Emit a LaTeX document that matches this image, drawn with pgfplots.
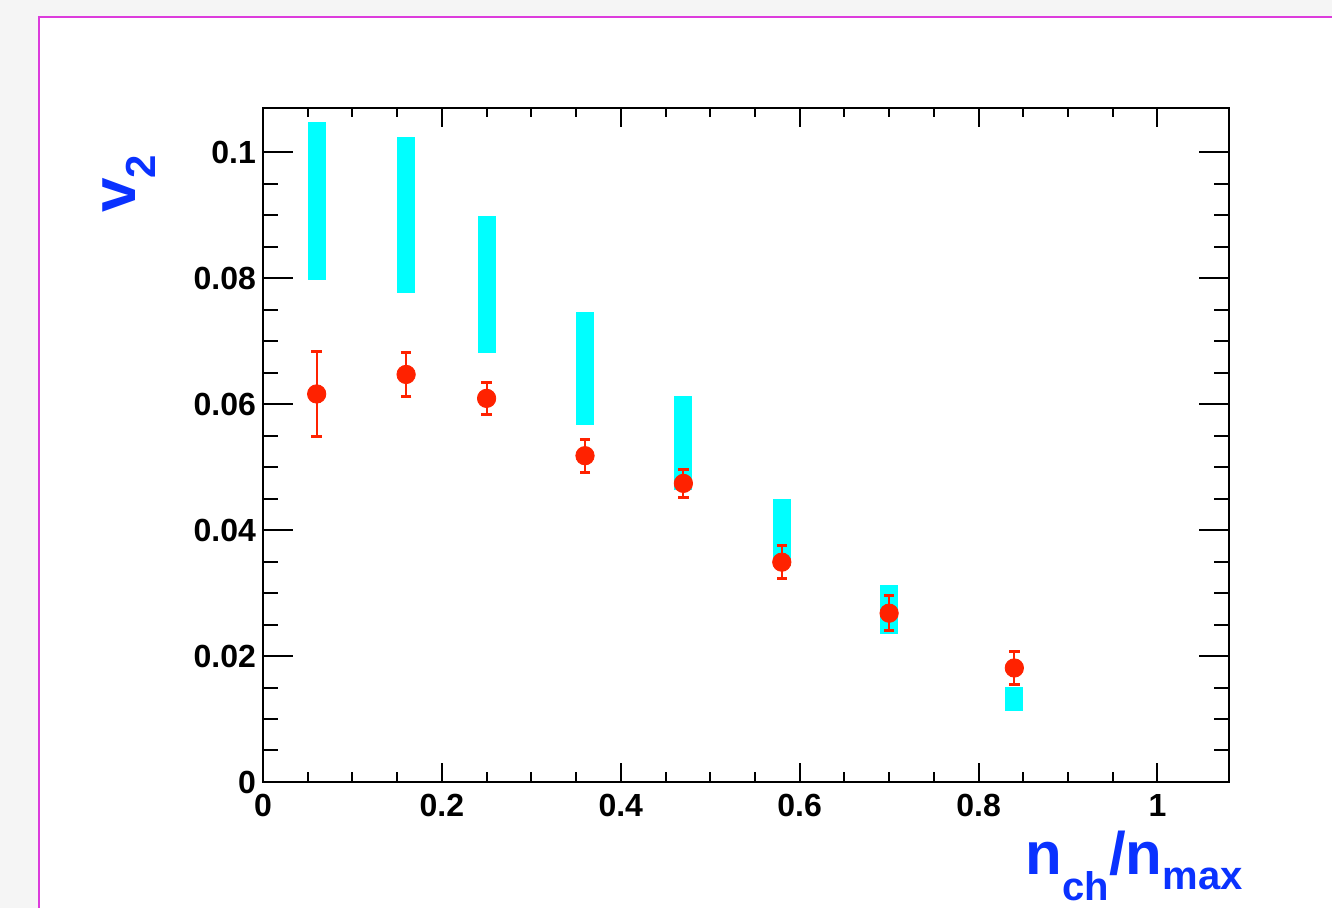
\documentclass[border=0pt]{standalone}
\usepackage{fontspec}
\setmainfont{Liberation Sans}
\usepackage{pgfplots}
\pgfplotsset{compat=1.18}
\definecolor{rootred}{RGB}{255,34,0}
\definecolor{rootcyan}{RGB}{0,255,255}
\definecolor{rootblue}{RGB}{10,50,255}
\definecolor{framecol}{RGB}{220,60,220}
\pgfplotsset{common/.style={
  at={(131.5pt,63pt)}, anchor=south west,
  scale only axis, width=483pt, height=337pt,
  xmin=0, xmax=1.08, ymin=0, ymax=0.107,
  tick align=inside,
  axis line style={line width=1.4pt, black},
  every tick/.style={black, line width=1pt},
  scaled ticks=false,
  ticklabel style={font=\fontsize{16}{16}\bfseries\selectfont},
}}
\begin{document}
\begin{tikzpicture}[x=1pt,y=1pt]
\useasboundingbox (0,0) rectangle (666,454);
\fill[gray!8] (0,0) rectangle (666,454);
\fill[white] (19.5,-10) rectangle (680,445.5);
\draw[framecol, line width=1pt] (19.5,-10) -- (19.5,445.5) -- (680,445.5);

\begin{axis}[common,
  xtick=\empty,
  ytick={0,0.02,0.04,0.06,0.08,0.1},
  yticklabels={0,0.02,0.04,0.06,0.08,0.1},
  minor y tick num=3,
  major tick length=15pt, minor tick length=7.5pt,
]
\addplot[draw=none, mark=none, forget plot,
  error bars/.cd, y dir=both, y explicit, error mark=none,
  error bar style={draw=rootcyan, line width=9pt}]
 table[x=x, y=y, y error=e] {
x y e
0.06 0.09225 0.01255
0.16 0.09005 0.01235
0.25 0.0790 0.0109
0.36 0.06565 0.00895
0.47 0.05375 0.00745
0.58 0.0396 0.0053
0.70 0.02735 0.00385
0.84 0.0132 0.0019
};
\addplot[only marks, mark=*, mark size=4.6pt, color=rootred,
  mark options={fill=rootred, draw=rootred},
  error bars/.cd, y dir=both, y explicit, error mark=|,
  error bar style={draw=rootred, line width=1.1pt},
  error mark options={draw=rootred, line width=1.5pt, mark size=2.6pt}]
 table[x=x, y=y, y error=e] {
x y e
0.06 0.0616 0.0067
0.16 0.0647 0.0035
0.25 0.0609 0.0025
0.36 0.0518 0.0026
0.47 0.0474 0.0022
0.58 0.0349 0.0026
0.70 0.0268 0.0028
0.84 0.0181 0.0026
};
\end{axis}

\begin{axis}[common,
  xtick={0,0.2,0.4,0.6,0.8,1},
  xticklabels={0,0.2,0.4,0.6,0.8,1},
  minor x tick num=3,
  ytick=\empty,
  major tick length=9.5pt, minor tick length=4.75pt,
  xticklabel style={yshift=-2.5pt},
]
\addplot[draw=none] coordinates {(0,0)};
\end{axis}

\node[anchor=base east, inner sep=0, text=rootblue, font=\bfseries] at (621.5,16.5)
 {\fontsize{30}{30}\selectfont n\raisebox{-13pt}{\fontsize{20}{20}\selectfont ch}/n\raisebox{-7.5pt}{\fontsize{20}{20}\selectfont max}};
\node[rotate=90, anchor=base west, inner sep=0, text=rootblue, font=\bfseries] at (67.5,347.5)
 {\fontsize{31}{31}\selectfont v\raisebox{-10pt}{\fontsize{21}{21}\selectfont 2}};
\end{tikzpicture}
\end{document}
